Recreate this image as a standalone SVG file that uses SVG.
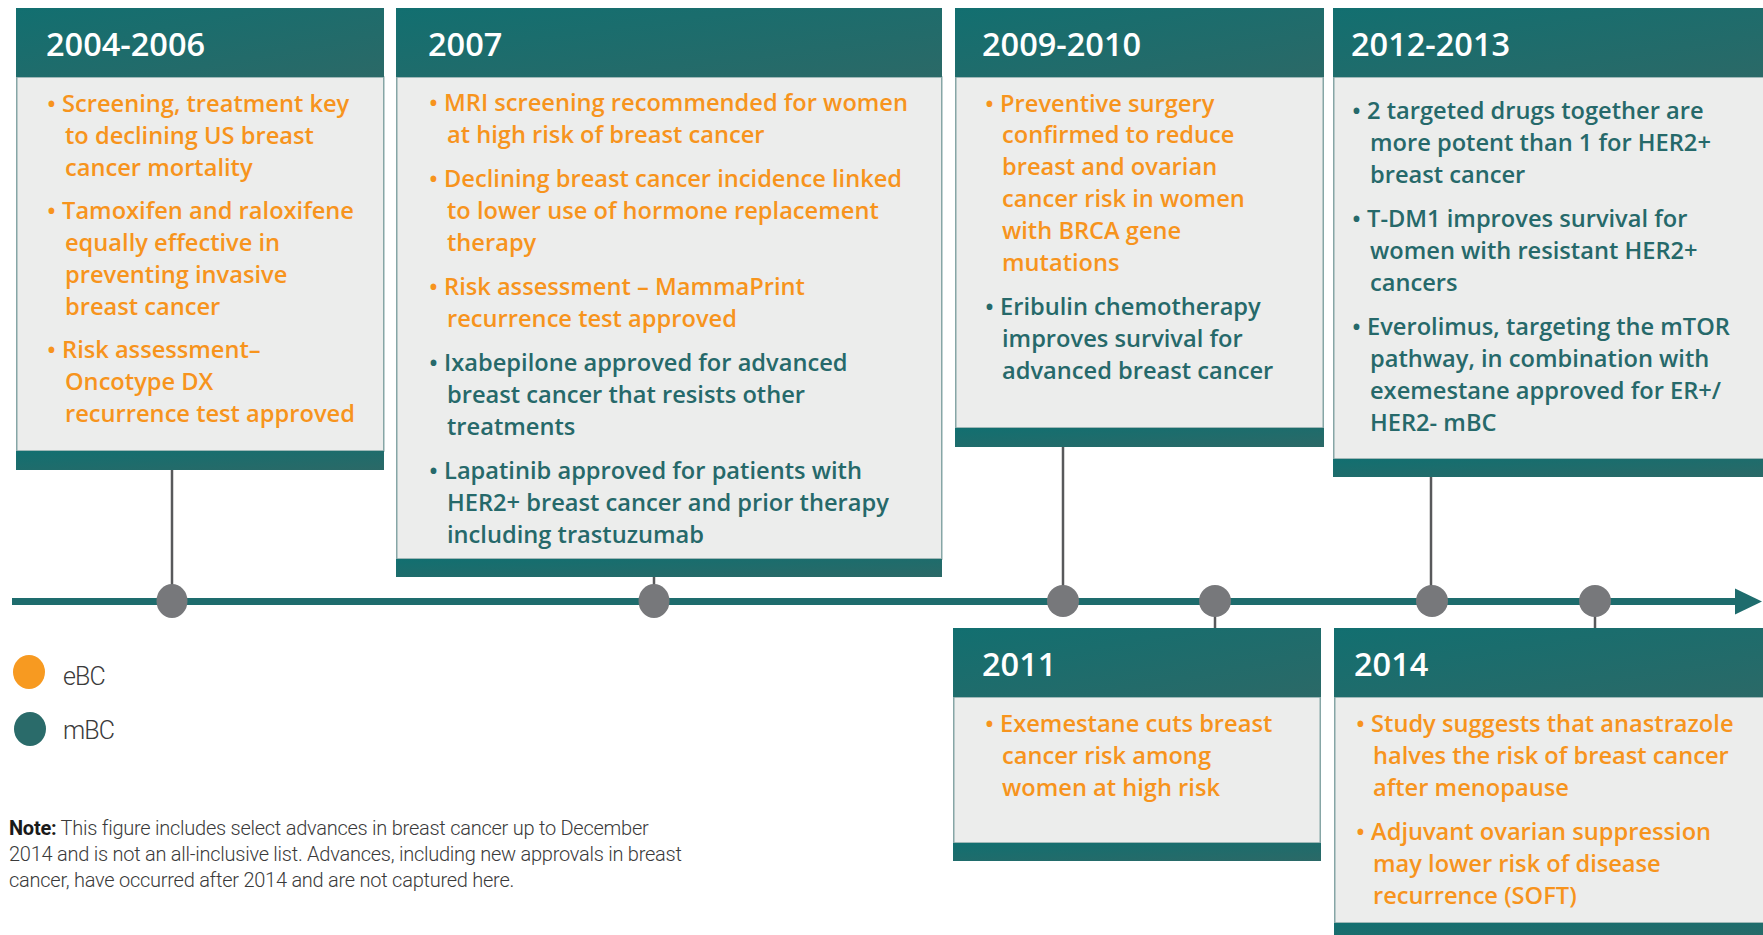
<svg xmlns="http://www.w3.org/2000/svg" width="1763" height="935" viewBox="0 0 1763 935">
<defs>
<linearGradient id="tg" x1="0" y1="0" x2="1" y2="1">
<stop offset="0" stop-color="#126F70"/>
<stop offset="1" stop-color="#2B6967"/>
</linearGradient>
<marker id="arr" markerUnits="userSpaceOnUse" markerWidth="28" markerHeight="28" refX="2" refY="14" orient="auto">
<path d="M0,1 L27,14 L0,27 Z" fill="#1E6C6D"/>
</marker>
<style>
.hdr{fill:url(#tg)}
.body{fill:#ECEDEC;stroke:#86A6A6;stroke-width:1.5}
.yr{font-family:"Open Sans","Liberation Sans",sans-serif;font-weight:600;font-size:32.5px;fill:#FFFFFF}
.o{font-family:"Open Sans","Liberation Sans",sans-serif;font-weight:600;font-size:23.65px;fill:#F7941D}
.t{font-family:"Open Sans","Liberation Sans",sans-serif;font-weight:600;font-size:23.65px;fill:#26696A}
.lg{font-family:Roboto,"Liberation Sans",sans-serif;font-weight:300;font-size:25px;fill:#3A3A3A;letter-spacing:-0.9px}
.nt{font-family:Roboto,"Liberation Sans",sans-serif;font-weight:300;font-size:20px;fill:#3A3A3A;letter-spacing:-0.25px}
.stem{stroke:#58595B;stroke-width:2.5;fill:none}
.dot{fill:#77787B}
</style>
</defs>
<rect width="1763" height="935" fill="#FFFFFF"/>

<g id="connectors">
<line class="stem" x1="172" y1="470" x2="172" y2="601"/>
<line class="stem" x1="654" y1="577" x2="654" y2="601"/>
<line class="stem" x1="1063" y1="447" x2="1063" y2="601"/>
<line class="stem" x1="1431" y1="477" x2="1431" y2="601"/>
<line class="stem" x1="1215" y1="601" x2="1215" y2="628"/>
<line class="stem" x1="1595" y1="601" x2="1595" y2="628"/>
<line x1="12" y1="601.5" x2="1737" y2="601.5" stroke="#1E6C6D" stroke-width="7" marker-end="url(#arr)"/>
<ellipse class="dot" cx="172" cy="601" rx="15.5" ry="17"/>
<ellipse class="dot" cx="654" cy="601" rx="15.5" ry="17"/>
<ellipse class="dot" cx="1063" cy="601" rx="16" ry="16"/>
<ellipse class="dot" cx="1215" cy="601" rx="16" ry="16"/>
<ellipse class="dot" cx="1432" cy="601" rx="16" ry="16"/>
<ellipse class="dot" cx="1595" cy="601" rx="16" ry="16"/>
</g>

<g id="n2004">
<rect class="body" x="16.75" y="77" width="367" height="374"/>
<rect class="hdr" x="16" y="8" width="368" height="69"/>
<rect class="hdr" x="16" y="451" width="368" height="19"/>
<text class="yr" x="46" y="56">2004-2006</text>
<text class="o" x="47" y="112">• Screening, treatment key</text>
<text class="o" x="65" y="144">to declining US breast</text>
<text class="o" x="65" y="176">cancer mortality</text>
<text class="o" x="47" y="219">• Tamoxifen and raloxifene</text>
<text class="o" x="65" y="251">equally effective in</text>
<text class="o" x="65" y="283">preventing invasive</text>
<text class="o" x="65" y="315">breast cancer</text>
<text class="o" x="47" y="358">• Risk assessment–</text>
<text class="o" x="65" y="390">Oncotype DX</text>
<text class="o" x="65" y="422">recurrence test approved</text>
</g>

<g id="n2007">
<rect class="body" x="396.75" y="77" width="545" height="482"/>
<rect class="hdr" x="396" y="8" width="546" height="69"/>
<rect class="hdr" x="396" y="559" width="546" height="18"/>
<text class="yr" x="428" y="56">2007</text>
<text class="o" x="429" y="111">• MRI screening recommended for women</text>
<text class="o" x="447" y="143">at high risk of breast cancer</text>
<text class="o" x="429" y="187">• Declining breast cancer incidence linked</text>
<text class="o" x="447" y="219">to lower use of hormone replacement</text>
<text class="o" x="447" y="251">therapy</text>
<text class="o" x="429" y="295">• Risk assessment – MammaPrint</text>
<text class="o" x="447" y="327">recurrence test approved</text>
<text class="t" x="429" y="371">• Ixabepilone approved for advanced</text>
<text class="t" x="447" y="403">breast cancer that resists other</text>
<text class="t" x="447" y="435">treatments</text>
<text class="t" x="429" y="479">• Lapatinib approved for patients with</text>
<text class="t" x="447" y="511">HER2+ breast cancer and prior therapy</text>
<text class="t" x="447" y="543">including trastuzumab</text>
</g>

<g id="n2009">
<rect class="body" x="955.75" y="77" width="367.5" height="351"/>
<rect class="hdr" x="955" y="8" width="369" height="69"/>
<rect class="hdr" x="955" y="428" width="369" height="19"/>
<text class="yr" x="982" y="56">2009-2010</text>
<text class="o" x="985" y="112">• Preventive surgery</text>
<text class="o" x="1002" y="143">confirmed to reduce</text>
<text class="o" x="1002" y="175">breast and ovarian</text>
<text class="o" x="1002" y="207">cancer risk in women</text>
<text class="o" x="1002" y="239">with BRCA gene</text>
<text class="o" x="1002" y="271">mutations</text>
<text class="t" x="985" y="315">• Eribulin chemotherapy</text>
<text class="t" x="1002" y="347">improves survival for</text>
<text class="t" x="1002" y="379">advanced breast cancer</text>
</g>

<g id="n2012">
<rect class="body" x="1333.75" y="77" width="440" height="382"/>
<rect class="hdr" x="1333" y="8" width="440" height="69"/>
<rect class="hdr" x="1333" y="459" width="440" height="18"/>
<text class="yr" x="1351" y="56">2012-2013</text>
<text class="t" x="1352" y="119">• 2 targeted drugs together are</text>
<text class="t" x="1370" y="151">more potent than 1 for HER2+</text>
<text class="t" x="1370" y="183">breast cancer</text>
<text class="t" x="1352" y="227">• T-DM1 improves survival for</text>
<text class="t" x="1370" y="259">women with resistant HER2+</text>
<text class="t" x="1370" y="291">cancers</text>
<text class="t" x="1352" y="335">• Everolimus, targeting the mTOR</text>
<text class="t" x="1370" y="367">pathway, in combination with</text>
<text class="t" x="1370" y="399">exemestane approved for ER+/</text>
<text class="t" x="1370" y="431">HER2- mBC</text>
</g>

<g id="n2011">
<rect class="body" x="953.75" y="697" width="366.5" height="146"/>
<rect class="hdr" x="953" y="628" width="368" height="69"/>
<rect class="hdr" x="953" y="843" width="368" height="18"/>
<text class="yr" x="982" y="676">2011</text>
<text class="o" x="985" y="732">• Exemestane cuts breast</text>
<text class="o" x="1002" y="764">cancer risk among</text>
<text class="o" x="1002" y="796">women at high risk</text>
</g>

<g id="n2014">
<rect class="body" x="1334.75" y="697" width="440" height="226"/>
<rect class="hdr" x="1334" y="628" width="440" height="69"/>
<rect class="hdr" x="1334" y="923" width="440" height="18"/>
<text class="yr" x="1354" y="676">2014</text>
<text class="o" x="1356" y="732">• Study suggests that anastrazole</text>
<text class="o" x="1373" y="764">halves the risk of breast cancer</text>
<text class="o" x="1373" y="796">after menopause</text>
<text class="o" x="1356" y="840">• Adjuvant ovarian suppression</text>
<text class="o" x="1373" y="872">may lower risk of disease</text>
<text class="o" x="1373" y="904">recurrence (SOFT)</text>
</g>

<g id="legend">
<ellipse cx="29" cy="672" rx="16" ry="17" fill="#F79A21"/>
<text class="lg" x="63" y="685">eBC</text>
<ellipse cx="30" cy="729" rx="16" ry="17" fill="#2A6B6A"/>
<text class="lg" x="63" y="739">mBC</text>
</g>

<g id="note">
<text class="nt" x="9" y="835"><tspan font-weight="700" fill="#1A1A1A">Note:</tspan> This figure includes select advances in breast cancer up to December</text>
<text class="nt" x="9" y="861">2014 and is not an all-inclusive list. Advances, including new approvals in breast</text>
<text class="nt" x="9" y="887">cancer, have occurred after 2014 and are not captured here.</text>
</g>
</svg>
